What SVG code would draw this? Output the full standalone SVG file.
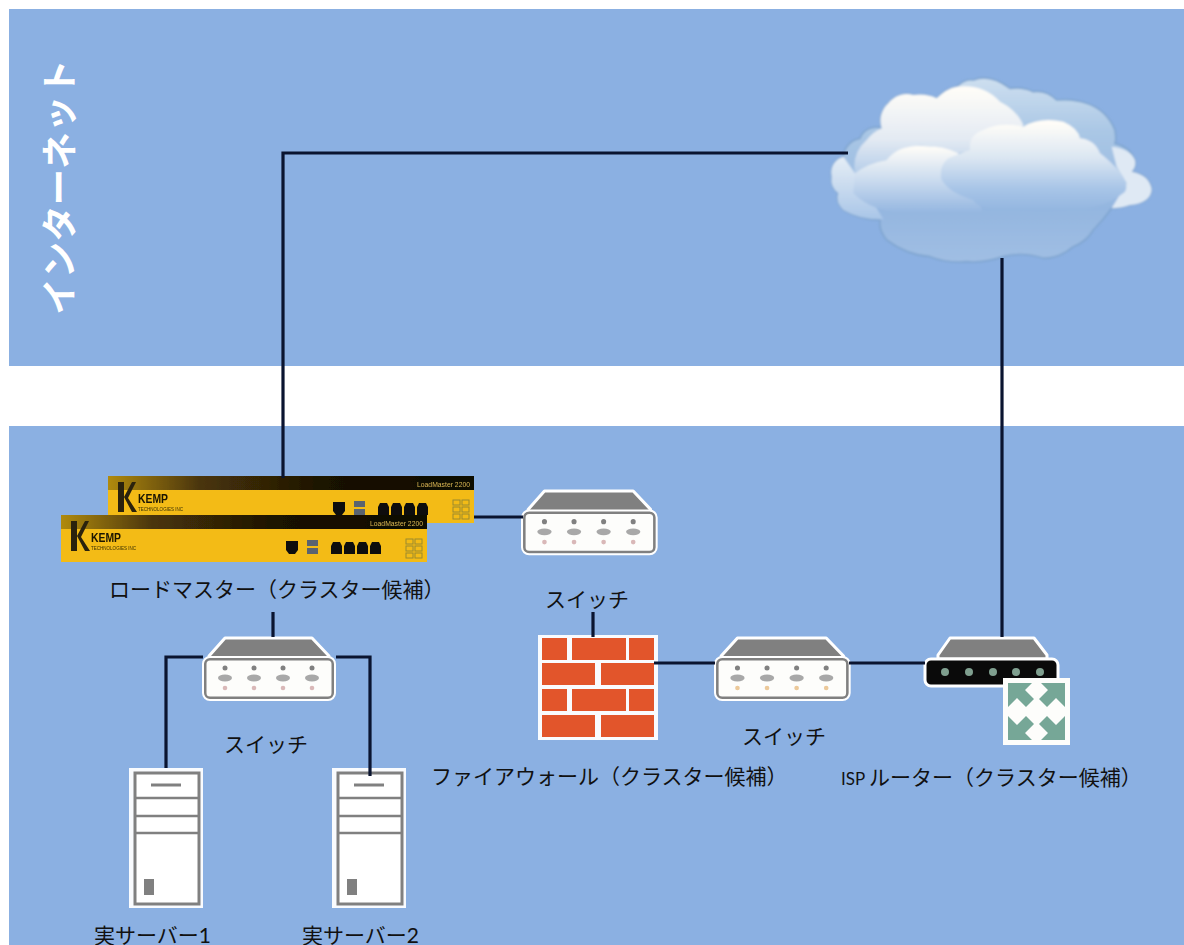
<svg xmlns="http://www.w3.org/2000/svg" width="1184" height="945" viewBox="0 0 1184 945">
<style>
.lbl{font-family:"Lato","Noto Sans CJK JP",sans-serif;font-size:21px;fill:#111}
.conn{fill:none;stroke:#0a1430;stroke-width:3.2}
.g{fill:#808080}.o{fill:none;stroke:#fff;stroke-linejoin:round}
.brick{fill:#e2552b}
.blk{fill:#111}
.tiny{font-family:"Liberation Sans",sans-serif}
</style>
<defs>
<filter id="soft" x="-5%" y="-5%" width="110%" height="110%"><feGaussianBlur stdDeviation="0.6"/></filter>
<filter id="softer" x="-5%" y="-5%" width="110%" height="110%"><feGaussianBlur stdDeviation="3"/></filter>
<linearGradient id="strip" x1="0" x2="1" y1="0" y2="0"><stop offset="0" stop-color="#b08a10"/><stop offset=".25" stop-color="#4a3508"/><stop offset=".6" stop-color="#1a1204"/><stop offset="1" stop-color="#0c0a04"/></linearGradient>
<linearGradient id="c1" gradientUnits="userSpaceOnUse" x1="0" x2="0" y1="50" y2="600"><stop offset="0" stop-color="#cfe0f0"/><stop offset=".3" stop-color="#aac7e5"/><stop offset=".72" stop-color="#94b6e0"/><stop offset="1" stop-color="#a0bee3"/></linearGradient>
<linearGradient id="c2" gradientUnits="userSpaceOnUse" x1="0" x2="0" y1="85" y2="340"><stop offset="0" stop-color="#fffdf8"/><stop offset=".6" stop-color="#e3eaf3"/><stop offset="1" stop-color="#b5cde9"/></linearGradient>
<linearGradient id="c3" gradientUnits="userSpaceOnUse" x1="0" x2="0" y1="190" y2="450"><stop offset="0" stop-color="#fffdf8"/><stop offset=".4" stop-color="#dbe6f2"/><stop offset=".75" stop-color="#a8c5e7"/><stop offset="1" stop-color="#94b6e0"/></linearGradient>
<linearGradient id="c4" gradientUnits="userSpaceOnUse" x1="0" x2="0" y1="260" y2="460"><stop offset="0" stop-color="#fffdf8"/><stop offset=".45" stop-color="#d0dff0"/><stop offset="1" stop-color="#94b6e0"/></linearGradient>
<linearGradient id="c5" gradientUnits="userSpaceOnUse" x1="0" x2="0" y1="290" y2="480"><stop offset="0" stop-color="#e6eef6"/><stop offset="1" stop-color="#a8c5e7"/></linearGradient>
<g id="sw-base">
<path d="M23 3H110L127 21V23H7V21Z" fill="#808080" stroke="#fff" stroke-width="3" stroke-linejoin="round"/>
<rect x="3" y="24" width="128" height="39" rx="5" fill="#fdfdfb" stroke="#808080" stroke-width="3"/>
<rect x="1" y="22" width="132" height="43" rx="7" class="o" stroke-width="2"/>
</g>
<g id="switch-p">
<use href="#sw-base"/>
<g class="g"><circle cx="23" cy="33" r="2.5"/><circle cx="52" cy="33" r="2.5"/><circle cx="81" cy="33" r="2.5"/><circle cx="110" cy="33" r="2.5"/>
<ellipse cx="23" cy="43" rx="7" ry="3.4" fill="#a8a8a8"/><ellipse cx="52" cy="43" rx="7" ry="3.4" fill="#a8a8a8"/><ellipse cx="81" cy="43" rx="7" ry="3.4" fill="#a8a8a8"/><ellipse cx="110" cy="43" rx="7" ry="3.4" fill="#a8a8a8"/></g>
<g fill="#d9b8b8"><circle cx="23" cy="53" r="2.3"/><circle cx="52" cy="53" r="2.3"/><circle cx="81" cy="53" r="2.3"/><circle cx="110" cy="53" r="2.3"/></g>
</g>
<g id="switch-o">
<use href="#sw-base"/>
<g class="g"><circle cx="23" cy="33" r="2.5"/><circle cx="52" cy="33" r="2.5"/><circle cx="81" cy="33" r="2.5"/><circle cx="110" cy="33" r="2.5"/>
<ellipse cx="23" cy="43" rx="7" ry="3.4" fill="#a8a8a8"/><ellipse cx="52" cy="43" rx="7" ry="3.4" fill="#a8a8a8"/><ellipse cx="81" cy="43" rx="7" ry="3.4" fill="#a8a8a8"/><ellipse cx="110" cy="43" rx="7" ry="3.4" fill="#a8a8a8"/></g>
<g fill="#ecc99a"><circle cx="23" cy="53" r="2.3"/><circle cx="52" cy="53" r="2.3"/><circle cx="81" cy="53" r="2.3"/><circle cx="110" cy="53" r="2.3"/></g>
</g>
<g id="server">
<rect width="74" height="140" fill="#fff" opacity=".95"/>
<rect x="6" y="5" width="64" height="131" fill="#fff" stroke="#808080" stroke-width="3"/>
<path d="M6 30H70M6 48H70M6 65H70" stroke="#808080" stroke-width="2.6" fill="none"/>
<path d="M22 17H52" stroke="#808080" stroke-width="3" fill="none"/>
<rect x="15" y="111" width="10" height="16" fill="#808080"/>
</g>
<g id="lm">
<rect x="0" y="0" width="366" height="47" fill="#f3bb16"/>
<rect x="0" y="0" width="366" height="14" fill="url(#strip)"/>
<text x="362" y="11" text-anchor="end" font-size="8" fill="#d8b850" class="tiny" textLength="53" lengthAdjust="spacingAndGlyphs">LoadMaster 2200</text>
<path d="M10 6h6v30h-6zM16 21L24 6h4L20 22L29 36h-5z" fill="#2a2208"/>
<text x="30" y="27" font-size="12" font-weight="bold" fill="#1a1504" class="tiny" textLength="30" lengthAdjust="spacingAndGlyphs">KEMP</text>
<text x="30" y="35" font-size="5.5" fill="#3a3008" class="tiny" textLength="45" lengthAdjust="spacingAndGlyphs">TECHNOLOGIES INC</text>
<g class="blk"><path d="M225 26h12v9l-3 4h-6l-3-4z"/>
<path d="M270 31l2-4h7l2 4v8h-11zM283 31l2-4h7l2 4v8h-11zM296 31l2-4h7l2 4v8h-11zM309 31l2-4h7l2 4v8h-11z"/></g>
<rect x="246" y="25" width="11" height="6" fill="#5a6470"/><rect x="246" y="33" width="11" height="6" fill="#5a6470"/>
<g fill="none" stroke="#9a8a30" stroke-width="1"><rect x="345" y="24" width="7" height="5"/><rect x="354" y="24" width="7" height="5"/><rect x="345" y="31" width="7" height="5"/><rect x="354" y="31" width="7" height="5"/><rect x="345" y="38" width="7" height="5"/><rect x="354" y="38" width="7" height="5"/></g>
</g>
</defs>

<rect width="1184" height="945" fill="#fff"/>
<g id="bands">
<rect x="9" y="9" width="1175" height="357" fill="#8bb0e2"/>
<rect x="9" y="426" width="1175" height="519" fill="#8bb0e2"/>
<text transform="translate(73,187) rotate(-90)" text-anchor="middle" font-family="Noto Sans CJK JP,sans-serif" font-size="36.5" font-weight="700" fill="#fff">インターネット</text>
</g>

<g id="cloud" transform="translate(810,60) scale(.33333)" filter="url(#softer)">
<path d="M65 350A50 50 0 0 1 100 290A60 60 0 0 1 150 235A50 50 0 0 1 215 205A70 70 0 0 1 235 130A70 70 0 0 1 310 105Q350 100 380 115Q410 85 440 80Q465 55 490 60Q540 40 600 85Q640 80 670 95Q710 90 740 120Q790 115 830 130Q890 150 915 210Q920 240 915 250Q960 260 975 300Q980 320 965 335Q1020 345 1025 390Q1020 430 960 435Q930 445 905 445Q880 480 850 510Q830 545 790 560Q750 595 700 595Q640 575 580 590Q520 610 470 605Q410 610 360 590Q290 585 230 540Q205 510 210 480Q150 480 100 450Q75 425 85 400Q60 380 65 350Z" fill="url(#c1)" stroke="#7fa5d0" stroke-width="5"/>
<path d="M905 260Q960 265 975 300Q980 320 965 335Q1020 345 1025 390Q1020 430 960 435Q930 445 905 445L950 370L920 320Z" fill="#dfe9f4"/>
<path d="M65 350A50 50 0 0 1 100 290L135 340L220 478Q150 480 100 450Q75 425 85 400Q60 380 65 350Z" fill="url(#c5)"/>
<path d="M135 340Q125 280 170 240Q190 215 215 205A70 70 0 0 1 235 130A70 70 0 0 1 310 105Q350 100 380 115Q410 85 440 80Q520 70 570 125Q620 150 640 195L600 260L440 280Q370 250 300 260Q250 270 230 300Q170 310 135 340Z" fill="url(#c2)"/>
<path d="M135 340Q170 310 230 300Q260 260 320 258Q400 255 445 280L520 460H300Q190 460 130 400Z" fill="url(#c4)"/>
<path d="M395 360Q385 320 415 295Q450 280 480 270Q475 225 520 210Q570 185 640 200Q690 170 760 185Q805 205 810 235Q855 240 870 280Q885 290 920 325Q960 370 945 395Q890 440 800 450Q700 460 600 450Q500 450 490 420Q420 400 395 360Z" fill="url(#c3)"/>
</g>

<g id="loadmaster-1" filter="url(#soft)"><use href="#lm" x="108" y="476"/></g>
<g id="loadmaster-2" filter="url(#soft)"><use href="#lm" x="61" y="515"/></g>
<g id="switch-1"><use href="#switch-p" transform="translate(521,488) scale(1.02)"/></g>
<g id="switch-2"><use href="#switch-p" x="202" y="635"/></g>
<g id="switch-3"><use href="#switch-o" transform="translate(714,635) scale(1.02,1)"/></g>

<g id="firewall" transform="translate(538,635)">
<rect width="120" height="105" fill="#fff" opacity=".95"/>
<g class="brick">
<rect x="4" y="3" width="25" height="22"/><rect x="34" y="3" width="54" height="22"/><rect x="91" y="3" width="25" height="22"/>
<rect x="4" y="28" width="53" height="22"/><rect x="63" y="28" width="53" height="22"/>
<rect x="4" y="54" width="25" height="22"/><rect x="34" y="54" width="54" height="22"/><rect x="91" y="54" width="25" height="22"/>
<rect x="4" y="80" width="53" height="22"/><rect x="63" y="80" width="53" height="22"/>
</g>
</g>

<g id="router">
<path d="M950 638H1034L1047 655V659H938V655Z" fill="#808080" stroke="#fff" stroke-width="3" stroke-linejoin="round"/>
<rect x="925" y="659" width="133" height="27" rx="6" fill="#0a0a0a" stroke="#fff" stroke-width="3"/>
<g fill="#7f9f8f"><circle cx="945" cy="672" r="4"/><circle cx="969" cy="672" r="4"/><circle cx="993" cy="672" r="4"/><circle cx="1016" cy="672" r="4"/><circle cx="1040" cy="672" r="4"/></g>
<rect x="1003" y="678" width="67" height="67" fill="#fdfdfb"/>
<g fill="#76a797">
<path d="M1008 683H1032L1025 690L1034 699L1026 707L1017 698L1008 707Z"/>
<path d="M1065 683H1041L1048 690L1039 699L1047 707L1056 698L1065 707Z"/>
<path d="M1008 740H1032L1025 733L1034 724L1026 716L1017 725L1008 716Z"/>
<path d="M1065 740H1041L1048 733L1039 724L1047 716L1056 725L1065 716Z"/>
</g>
</g>

<g id="server-1"><use href="#server" x="129" y="768"/></g>
<g id="server-2"><use href="#server" x="332" y="768"/></g>

<g id="connectors">
<path class="conn" d="M283 478V153H848"/>
<path class="conn" d="M1002 258V637"/>
<path class="conn" d="M474 517H523"/>
<path class="conn" d="M593 612V637"/>
<path class="conn" d="M273 612V637"/>
<path class="conn" d="M166 768V657H203"/>
<path class="conn" d="M336 657H370V776"/>
<path class="conn" d="M654 663H715"/>
<path class="conn" d="M849 663H925"/>
</g>

<g id="labels">
<text class="lbl" x="109" y="597">ロードマスター（クラスター候補）</text>
<text class="lbl" x="545" y="607">スイッチ</text>
<text class="lbl" x="224" y="752">スイッチ</text>
<text class="lbl" x="742" y="744">スイッチ</text>
<text class="lbl" x="431" y="784">ファイアウォール（クラスター候補）</text>
<text class="lbl" x="841" y="785"><tspan font-size="17">ISP </tspan>ルーター（クラスター候補）</text>
<text class="lbl" x="94" y="943">実サーバー1</text>
<text class="lbl" x="302" y="943">実サーバー2</text>
</g>
</svg>
